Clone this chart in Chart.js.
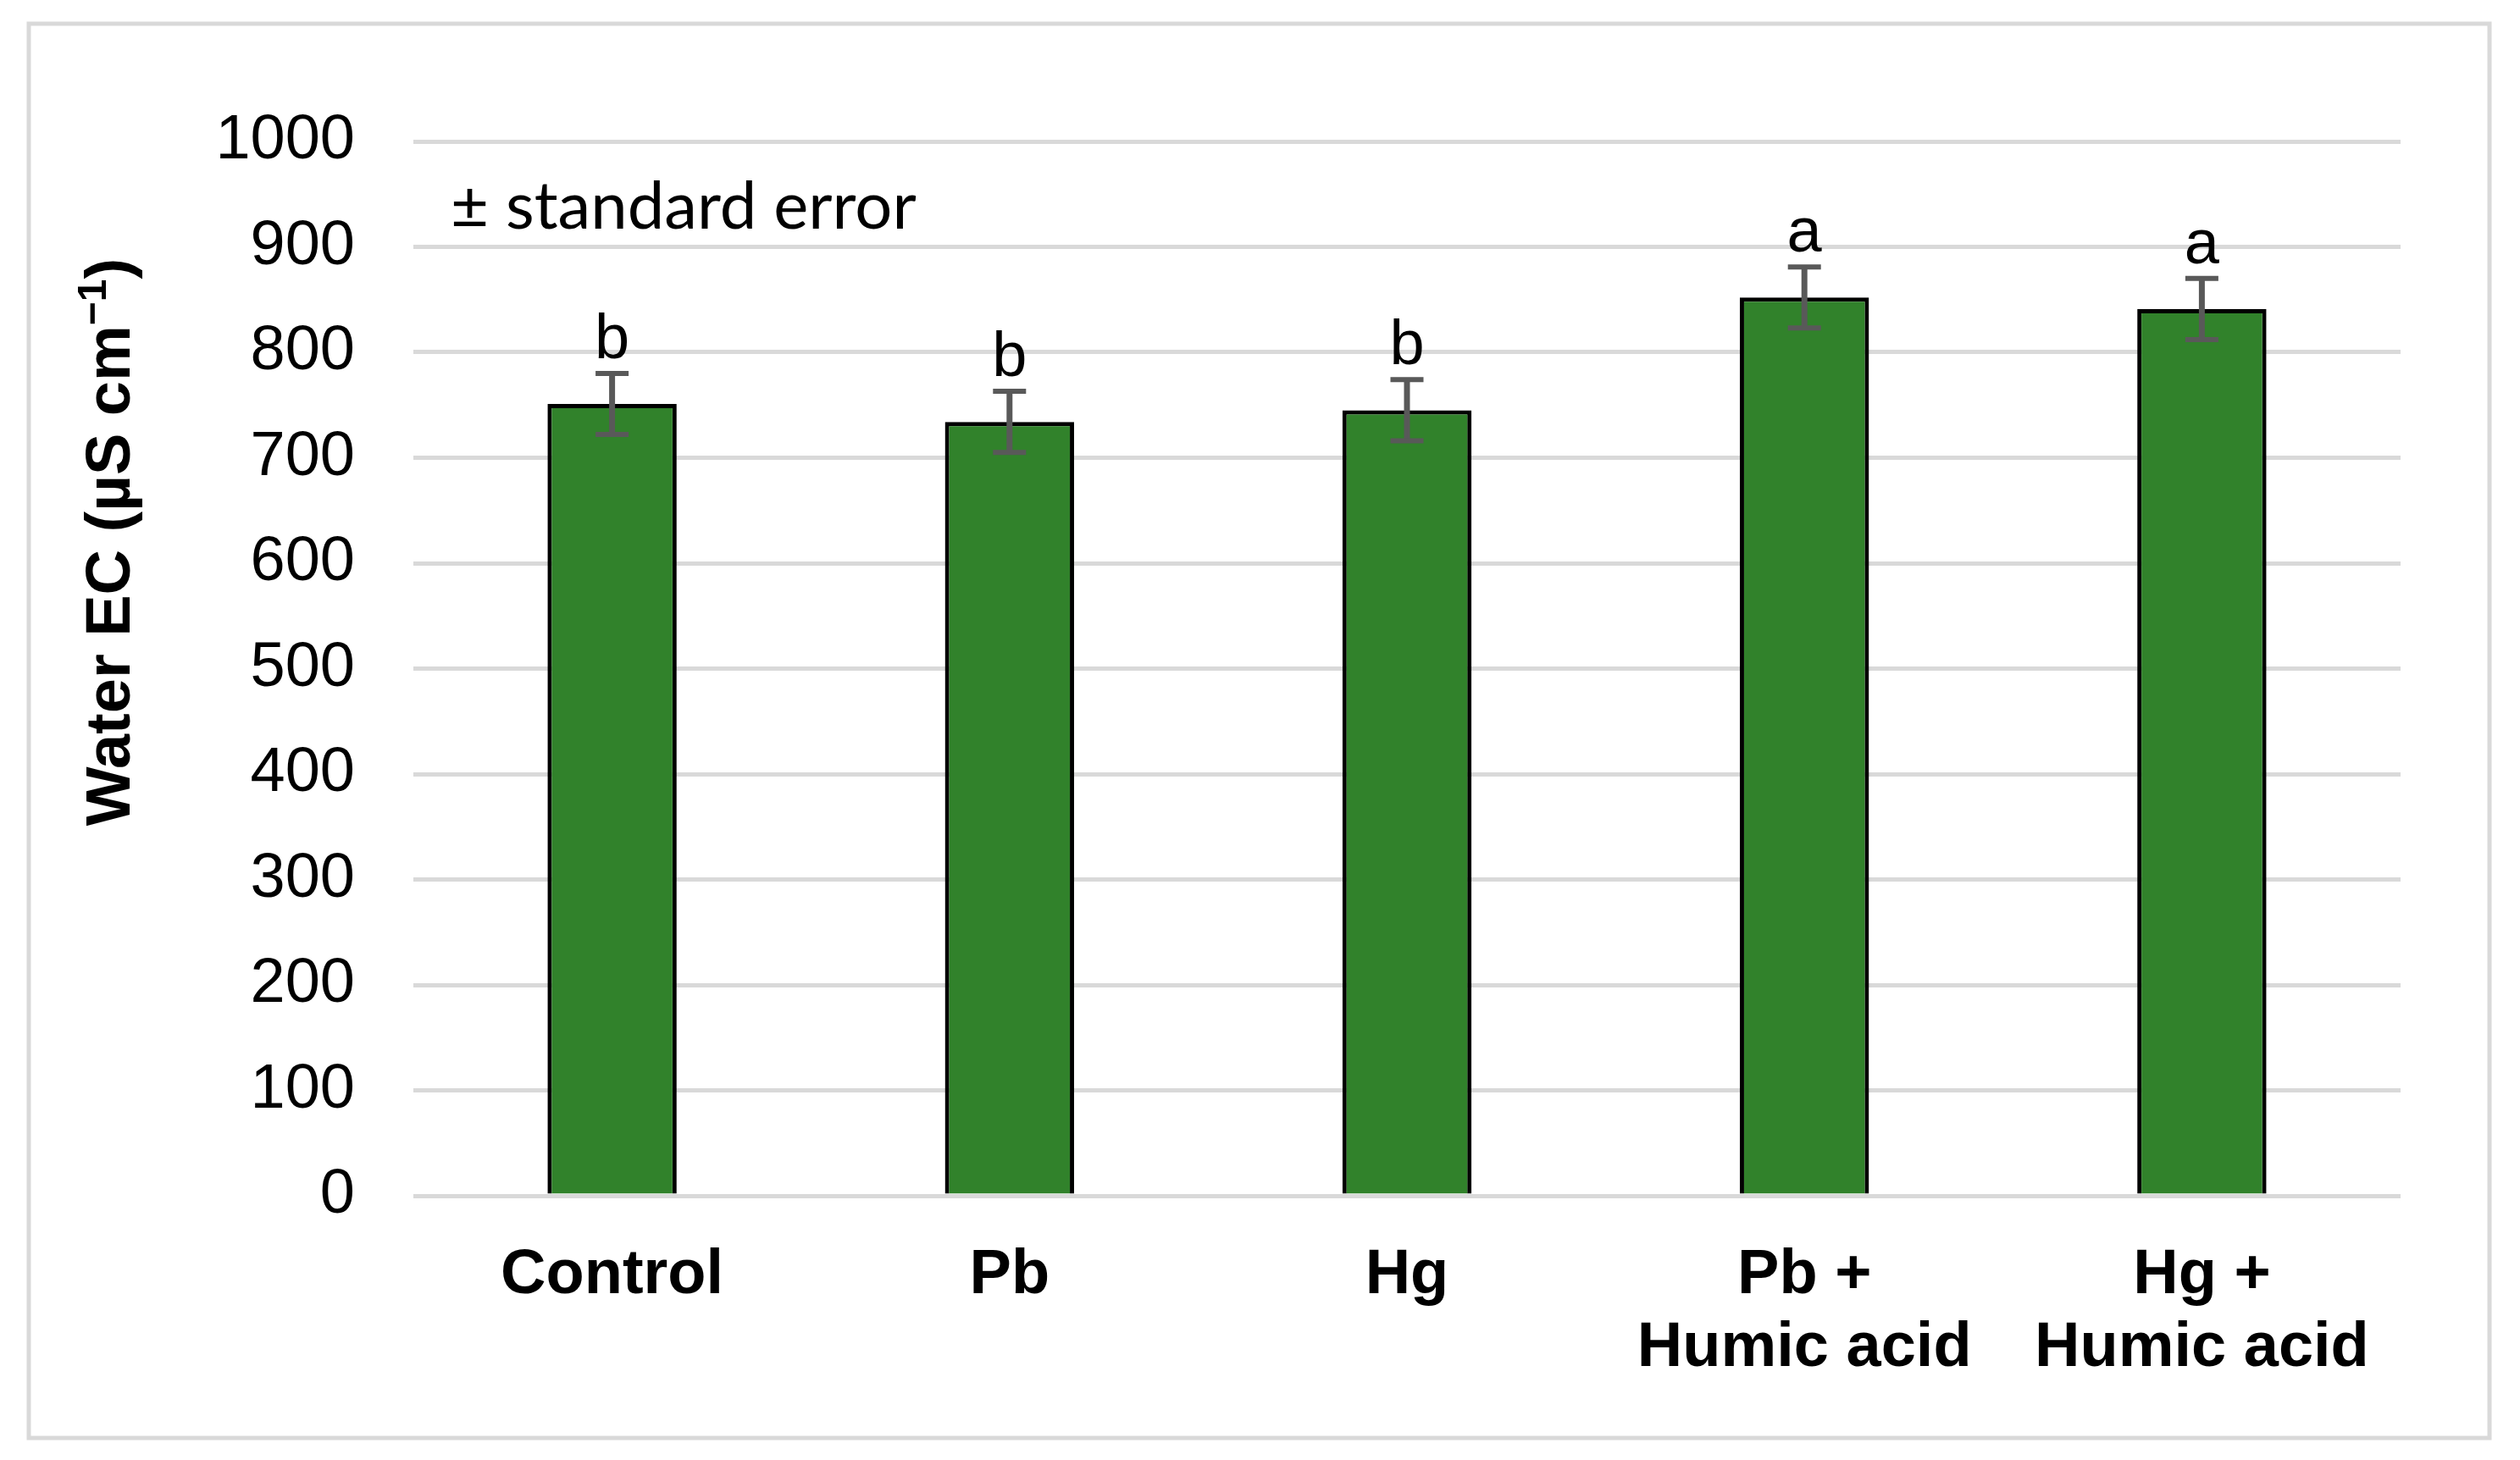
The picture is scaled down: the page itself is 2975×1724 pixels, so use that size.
<!DOCTYPE html>
<html>
<head>
<meta charset="utf-8">
<script src="https://cdn.jsdelivr.net/npm/chart.js@4.4.0/dist/chart.umd.min.js"></script>
<style>
  html, body { margin: 0; padding: 0; background: #fff; }
  canvas { display: block; }
</style>
</head>
<body>
<canvas id="chart-ec" width="2975" height="1724"></canvas>
<script>
// ===== DATA =====
const categories = ['Control', 'Pb', 'Hg', ['Pb +', 'Humic acid'], ['Hg +', 'Humic acid']];
const ecMeans = [751, 734, 745, 852, 841];
const ecErrors = [29, 29, 29, 29, 29];
const sigLetters = ['b', 'b', 'b', 'a', 'a'];
const yTicks = [0, 100, 200, 300, 400, 500, 600, 700, 800, 900, 1000];

const FONT = "'Liberation Sans', Arial, sans-serif";
const GRID = '#d9d9d9';
const ERR = '#595959';

// cadre gris autour de la figure
const framePlugin = {
  id: 'frame',
  beforeDraw(chart) {
    const ctx = chart.ctx;
    ctx.save();
    ctx.fillStyle = '#fff';
    ctx.fillRect(0, 0, chart.width, chart.height);
    ctx.strokeStyle = GRID;
    ctx.lineWidth = 5;
    ctx.strokeRect(34, 28, 2905, 1670);
    ctx.restore();
  }
};

// barres d'erreur + lettres de significativité
const errorBarPlugin = {
  id: 'errorBars',
  afterDatasetsDraw(chart) {
    const ctx = chart.ctx;
    const y = chart.scales.y;
    const meta = chart.getDatasetMeta(0);
    ctx.save();
    meta.data.forEach((bar, i) => {
      const top = y.getPixelForValue(ecMeans[i] + ecErrors[i]);
      const bot = y.getPixelForValue(ecMeans[i] - ecErrors[i]);
      ctx.strokeStyle = ERR;
      ctx.lineWidth = 7;
      ctx.beginPath();
      ctx.moveTo(bar.x, top); ctx.lineTo(bar.x, bot);
      ctx.stroke();
      ctx.lineWidth = 6;
      ctx.beginPath();
      ctx.moveTo(bar.x - 19.5, top); ctx.lineTo(bar.x + 19.5, top);
      ctx.moveTo(bar.x - 19.5, bot); ctx.lineTo(bar.x + 19.5, bot);
      ctx.stroke();
      ctx.fillStyle = '#000';
      ctx.font = '74px ' + FONT;
      ctx.textAlign = 'center';
      ctx.textBaseline = 'alphabetic';
      ctx.fillText(sigLetters[i], bar.x, top - 18);
    });
    ctx.restore();
  }
};

// titre de l'axe Y (avec exposant) et note "± standard error"
const textPlugin = {
  id: 'texts',
  afterDraw(chart) {
    const ctx = chart.ctx;
    ctx.save();
    ctx.translate(153, 640);
    ctx.rotate(-Math.PI / 2);
    ctx.fillStyle = '#000';
    ctx.textBaseline = 'alphabetic';
    ctx.textAlign = 'left';
    const main = 'Water EC (µS cm', sup = '\u22121', close = ')';
    ctx.font = 'bold 74px ' + FONT;
    const wMain = ctx.measureText(main).width, wClose = ctx.measureText(close).width;
    ctx.font = 'bold 48px ' + FONT;
    const wSup = ctx.measureText(sup).width;
    let x = -(wMain + wSup + wClose) / 2;
    ctx.font = 'bold 74px ' + FONT;
    ctx.fillText(main, x, 0); x += wMain;
    ctx.font = 'bold 48px ' + FONT;
    ctx.fillText(sup, x, -28); x += wSup;
    ctx.font = 'bold 74px ' + FONT;
    ctx.fillText(close, x, 0);
    ctx.restore();

    ctx.save();
    const note = '\u00b1 standard error';
    ctx.font = '100px Lato, "Open Sans", sans-serif';
    const size = 100 * 550 / ctx.measureText(note).width;
    ctx.font = size.toFixed(1) + 'px Lato, "Open Sans", sans-serif';
    ctx.fillStyle = '#000';
    ctx.textAlign = 'left';
    ctx.textBaseline = 'alphabetic';
    ctx.fillText(note, 532, 270);
    ctx.restore();
  }
};

new Chart(document.getElementById('chart-ec'), {
  type: 'bar',
  data: {
    labels: categories,
    datasets: [{
      data: ecMeans,
      backgroundColor: '#31822b',
      borderColor: '#000',
      borderWidth: 5,
      borderSkipped: 'bottom',
      barPercentage: 0.325,
      categoryPercentage: 1
    }]
  },
  options: {
    responsive: false,
    animation: false,
    devicePixelRatio: 1,
    layout: { padding: { top: 167, right: 141, left: 0, bottom: 0 } },
    plugins: { legend: { display: false }, tooltip: { enabled: false } },
    scales: {
      x: {
        grid: { display: false, drawTicks: false },
        border: { display: false },
        ticks: { color: '#000', padding: 52, font: { family: FONT, size: 74, weight: 'bold', lineHeight: 1.16 }, maxRotation: 0, autoSkip: false },
        afterFit: s => { s.height = 312; }
      },
      y: {
        min: 0, max: 1000,
        afterBuildTicks: s => { s.ticks = yTicks.map(v => ({ value: v })); },
        grid: { color: GRID, lineWidth: 5, drawTicks: false },
        border: { display: false },
        ticks: { color: '#000', padding: 69, font: { family: FONT, size: 74 }, callback: v => String(v) },
        afterFit: s => { s.width = 488; }
      }
    }
  },
  plugins: [framePlugin, errorBarPlugin, textPlugin]
});
</script>
</body>
</html>
